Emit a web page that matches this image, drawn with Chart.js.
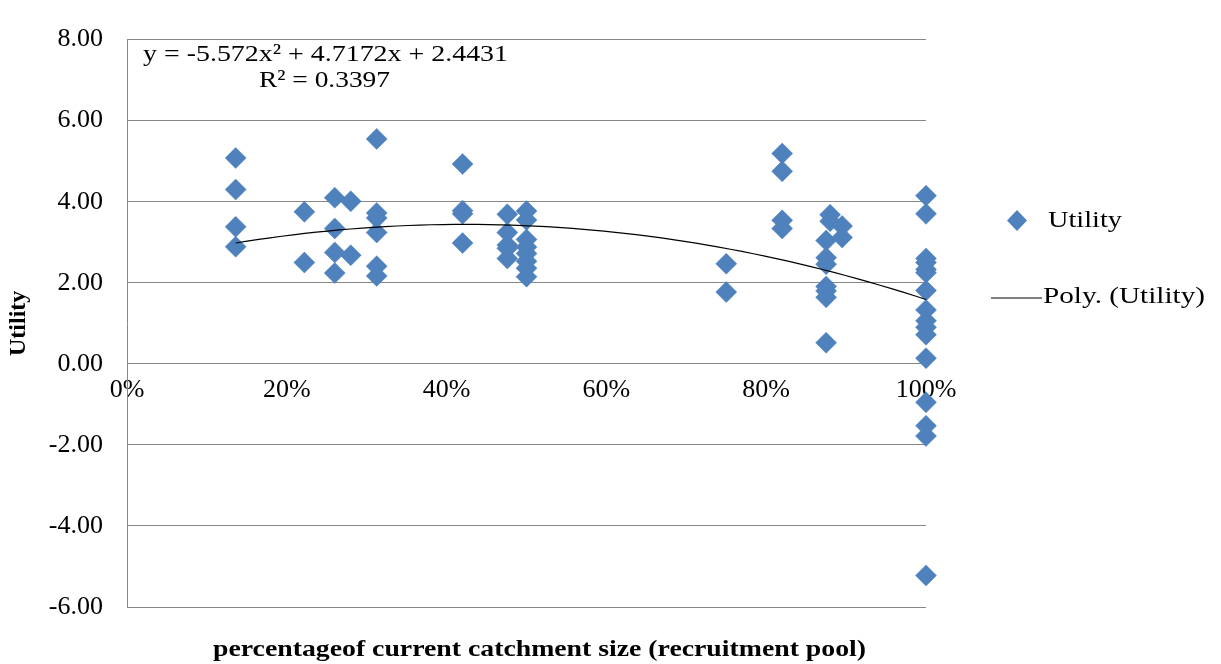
<!DOCTYPE html>
<html>
<head>
<meta charset="utf-8">
<script src="https://cdn.jsdelivr.net/npm/chart.js@4.4.0/dist/chart.umd.min.js"></script>
<style>
  html, body { margin: 0; padding: 0; background: #fff; }
  #wrap { width: 1221px; height: 664px; }
</style>
</head>
<body>
<div id="wrap"><canvas id="utilChart"></canvas></div>
<script>
// catchment size (fraction of current) and utility
var catchment = [
  0.136, 0.136, 0.136, 0.136,
  0.222, 0.222,
  0.26, 0.26, 0.26, 0.26,
  0.28, 0.28,
  0.3125, 0.3125, 0.3125, 0.3125, 0.3125, 0.3125,
  0.42, 0.42, 0.42, 0.42,
  0.476, 0.476, 0.476, 0.476, 0.476,
  0.50, 0.50, 0.50, 0.50, 0.50, 0.50, 0.50, 0.50,
  0.75, 0.75,
  0.82, 0.82, 0.82, 0.82,
  0.875, 0.875, 0.875, 0.875, 0.875, 0.875, 0.875,
  0.88, 0.88,
  0.895, 0.895,
  1, 1, 1, 1, 1, 1, 1, 1, 1, 1, 1, 1, 1, 1, 1, 1
];
var utility = [
  5.08, 4.30, 3.38, 2.89,
  3.75, 2.50,
  4.10, 3.34, 2.75, 2.24,
  4.01, 2.68,
  5.55, 3.72, 3.60, 3.24, 2.41, 2.17,
  4.93, 3.78, 3.70, 2.98,
  3.69, 3.24, 2.93, 2.85, 2.60,
  3.77, 3.55, 3.07, 2.88, 2.72, 2.53, 2.36, 2.15,
  2.47, 1.77,
  5.19, 4.75, 3.54, 3.34,
  3.04, 2.62, 2.46, 1.91, 1.80, 1.64, 0.52,
  3.68, 3.52,
  3.40, 3.12,
  4.15, 3.70, 2.60, 2.50, 2.33, 2.25, 1.81, 1.33, 1.06, 0.90, 0.72, 0.14, -0.95, -1.53, -1.78, -5.22
];
// polynomial trendline as printed on the chart: a*x^2 + b*x + c
var trendCoef = [-5.572, 4.7172, 2.4431];
var trendText = ['y = -5.572x\u00B2 + 4.7172x + 2.4431', 'R\u00B2 = 0.3397'];
var xTitle = 'percentageof current catchment size (recruitment pool)';
var yTitle = 'Utility';
var legendNames = ['Utility', 'Poly. (Utility)'];

var blue = '#4F81BD';
var serif = '"Liberation Serif", "Times New Roman", serif';

var points = catchment.map(function(x, i) { return { x: x, y: utility[i] }; });

var xMin = Math.min.apply(null, catchment), xMax = Math.max.apply(null, catchment);
var trend = [];
for (var k = 0; k <= 60; k++) {
  var x = xMin + (xMax - xMin) * k / 60;
  trend.push({ x: x, y: trendCoef[0] * x * x + trendCoef[1] * x + trendCoef[2] });
}

// draw text squeezed/stretched to a given width (the original fonts are wide)
function fitText(ctx, txt, x, y, w, font, align) {
  ctx.save();
  ctx.font = font;
  var nat = ctx.measureText(txt).width;
  var sx = w / nat;
  ctx.textBaseline = 'middle';
  ctx.textAlign = 'left';
  var left = align === 'center' ? x - w / 2 : x;
  ctx.translate(left, y);
  ctx.scale(sx, 1);
  ctx.fillStyle = '#000';
  ctx.fillText(txt, 0, 0);
  ctx.restore();
}

var extras = {
  id: 'extras',
  afterDraw: function(chart) {
    var ctx = chart.ctx;
    // equation and R2
    fitText(ctx, trendText[0], 143, 55, 365, '24px ' + serif);
    fitText(ctx, trendText[1], 259, 81, 131, '24px ' + serif);
    // x axis title
    fitText(ctx, xTitle, 539.5, 650, 653, 'bold 24px ' + serif, 'center');

    // legend
    ctx.save();
    ctx.fillStyle = blue;
    ctx.beginPath();
    ctx.moveTo(1017, 210); ctx.lineTo(1027, 220.5); ctx.lineTo(1017, 231); ctx.lineTo(1007, 220.5);
    ctx.closePath();
    ctx.fill();
    ctx.strokeStyle = '#000';
    ctx.lineWidth = 1.2;
    ctx.beginPath();
    ctx.moveTo(991, 298); ctx.lineTo(1042, 298);
    ctx.stroke();
    ctx.restore();
    fitText(ctx, legendNames[0], 1048, 221, 74, '24px ' + serif);
    fitText(ctx, legendNames[1], 1043, 297, 162, '24px ' + serif);
  }
};

var ctx = document.getElementById('utilChart').getContext('2d');
var chart = new Chart(ctx, {
  data: {
    datasets: [{
      type: 'line',
      label: legendNames[1],
      data: trend,
      borderColor: '#000',
      borderWidth: 1.2,
      pointRadius: 0,
      fill: false,
      tension: 0,
      clip: false,
      order: 0
    }, {
      type: 'scatter',
      label: legendNames[0],
      data: points,
      pointStyle: 'rectRot',
      pointRadius: 10.5,
      pointBackgroundColor: blue,
      pointBorderColor: blue,
      pointBorderWidth: 0.5,
      clip: false,
      order: 1
    }]
  },
  plugins: [extras],
  options: {
    responsive: true,
    maintainAspectRatio: false,
    animation: false,
    layout: { padding: { top: 21, bottom: 57, right: 295, left: 0 } },
    plugins: {
      legend: { display: false },
      tooltip: { enabled: false }
    },
    scales: {
      x: {
        type: 'linear',
        position: { y: 0 },
        min: 0,
        max: 1,
        grid: { display: false, drawTicks: false },
        border: { display: true, color: '#868686', width: 1 },
        ticks: {
          stepSize: 0.2,
          padding: 11,
          color: '#000',
          font: { family: serif, size: 26 },
          callback: function(v) { return Math.round(v * 100) + '%'; }
        }
      },
      y: {
        type: 'linear',
        position: 'left',
        min: -6,
        max: 8,
        afterFit: function(s) { s.width = 127; },
        grid: { color: '#868686', lineWidth: 1, drawTicks: false },
        border: { display: true, color: '#868686', width: 1 },
        ticks: {
          stepSize: 2,
          padding: 24,
          color: '#000',
          font: { family: serif, size: 26 },
          callback: function(v) { return v.toFixed(2); }
        },
        title: {
          display: true,
          text: yTitle,
          color: '#000',
          font: { family: serif, size: 24, weight: 'bold' },
          padding: { top: 4, bottom: 0 }
        }
      }
    }
  }
});
</script>
</body>
</html>
